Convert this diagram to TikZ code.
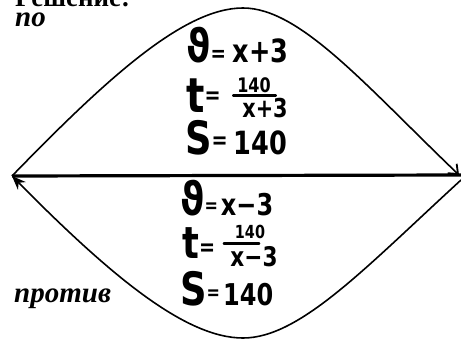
\documentclass[tikz,border=0pt]{standalone}
\usepackage{fontspec}
\setmainfont{Liberation Serif}
\newfontfamily\handfont[FakeStretch=0.8]{DejaVu Sans}
\usetikzlibrary{arrows.meta,positioning,calc}

\newcommand{\hsz}[2]{{\fontsize{#1}{#1}\selectfont #2}}
\newcommand{\setsz}[1]{\fontsize{#1}{#1}\selectfont}

\begin{document}
\begin{tikzpicture}[
  x=1pt, y=-1pt,
  hand/.style={font=\handfont\bfseries, inner sep=0pt, anchor=base west},
  fracpart/.style={font=\handfont\bfseries, inner sep=0pt, anchor=base},
  word/.style={font=\setsz{29}\bfseries\itshape, inner sep=0pt, anchor=base west},
  head/.style={font=\setsz{27}\bfseries, inner sep=0pt, anchor=base west},
  arc/.style={line width=1.6pt, draw=black},
  axisline/.style={line width=3.2pt, draw=black},
  fracbar/.style={line width=2.2pt, line cap=round},
]
\clip (0,0) rectangle (461,340);

% labels
\node[head] (sol)    at (15,6)   {Решение:};
\node[word] (po)     at (15,26)  {по};
\node[word] (protiv) at (14,302) {против};

% end points of the path
\coordinate (L)  at (12,176);
\coordinate (R)  at (459,175);
\coordinate (E)  at (461,175);
\coordinate (Rb) at (461,180);
\coordinate (top) at (243,8);
\coordinate (bot) at (243,338);

\draw[axisline] (L) -- (E);
\draw[arc, -{Straight Barb[length=8pt,width=13pt,line width=1.8pt]}]
  (L) .. controls (110,75) and (185,8) .. (top)
      .. controls (300,8) and (365,85) .. (R);
\draw[arc, -{Stealth[length=14pt,width=11pt]}]
  (Rb) .. controls (365,268) and (300,338) .. (bot)
       .. controls (185,338) and (110,275) .. (L);

% downstream
\node[hand] (v1) at (186,62)  {\hsz{46}{ϑ}\raisebox{1pt}{\hsz{23}{=}}\hspace{7pt}\hsz{32}{x+3}};
\node[hand] (t1) at (186,112) {\hsz{48}{t}\raisebox{9pt}{\hsz{24}{=}}};
\node[fracpart] (n1) at (254,92)  {\hsz{20}{140}};
\node[fracpart] (d1) at (265,117) {\hsz{26}{x+3}};
\draw[fracbar] ([xshift=-4pt,yshift=-3pt]n1.south west) -- ([xshift=5pt,yshift=-3pt]n1.south east);
\node[hand] (s1) at (185,154) {\hsz{46}{S}\raisebox{6pt}{\hsz{24}{=}}\hspace{6pt}\hsz{32}{140}};

% upstream
\node[hand] (v2) at (180,215) {\hsz{46}{ϑ}\raisebox{3pt}{\hsz{20}{=}}\hspace{3pt}\hsz{30}{x−3}};
\node[hand] (t2) at (182,258) {\hsz{44}{t}\raisebox{3pt}{\hsz{24}{=}}};
\node[fracpart] (n2) at (250,238) {\hsz{18}{140}};
\node[fracpart] (d2) at (254,266) {\hsz{27}{x−3}};
\draw[fracbar] ([xshift=-11pt,yshift=-5pt]n2.south west) -- ([xshift=-6pt,yshift=-5pt]n2.south east);
\node[hand] (s2) at (180,305) {\hsz{46}{S}\raisebox{6pt}{\hsz{20}{=}}\hspace{3pt}\hsz{30}{140}};

\end{tikzpicture}
\end{document}
